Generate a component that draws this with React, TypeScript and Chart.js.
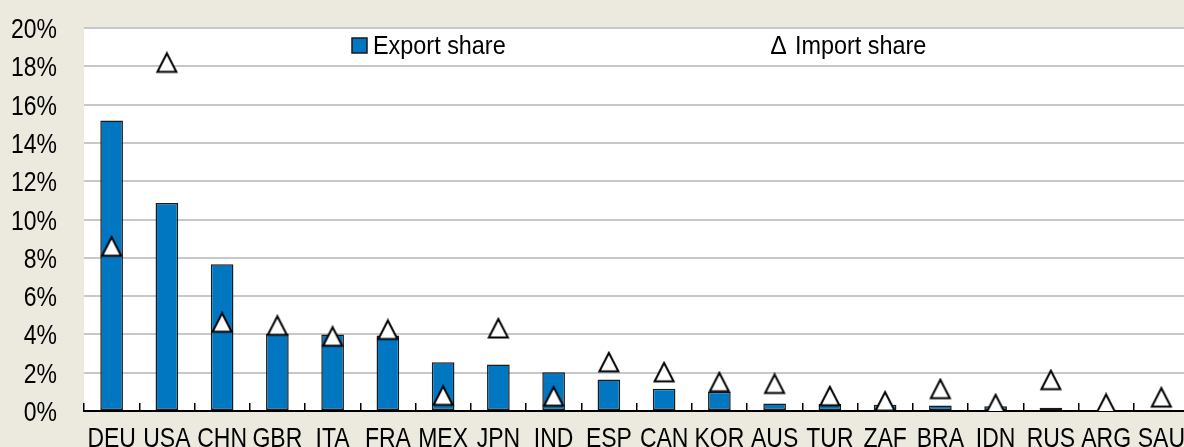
import { useEffect, useRef } from "react";
import { Chart, registerables } from "chart.js";

Chart.register(...registerables);

const categories = ["DEU", "USA", "CHN", "GBR", "ITA", "FRA", "MEX", "JPN", "IND", "ESP", "CAN", "KOR", "AUS", "TUR", "ZAF", "BRA", "IDN", "RUS", "ARG", "SAU"];
const exportShare = [15.17, 10.86, 7.66, 4.04, 3.99, 3.94, 2.55, 2.43, 2.03, 1.64, 1.16, 1.0, 0.39, 0.37, 0.32, 0.29, 0.25, 0.17, 0.04, 0.06];
const importShare = [8.58, 18.18, 4.61, 4.45, 3.88, 4.23, 0.79, 4.31, 0.75, 2.54, 2.02, 1.5, 1.41, 0.77, 0.49, 1.14, 0.35, 1.61, 0.37, 0.7];
const yTickValues = [0, 2, 4, 6, 8, 10, 12, 14, 16, 18, 20];
const legendLabels = ["Export share", "Import share"];

const FONT = '"Liberation Sans", Arial, sans-serif';
const NARROW = 0.82;
const BAR_COLOR = "#0077C0";
const BG = "#ECE9DF";

function makeTriangle(): HTMLCanvasElement {
  const c = document.createElement("canvas");
  c.width = 24;
  c.height = 23;
  const ctx = c.getContext("2d")!;
  ctx.beginPath();
  ctx.moveTo(12, 2);
  ctx.lineTo(2.5, 20.5);
  ctx.lineTo(21.5, 20.5);
  ctx.closePath();
  ctx.fillStyle = "#ffffff";
  ctx.fill();
  ctx.lineWidth = 2;
  ctx.lineJoin = "miter";
  ctx.strokeStyle = "#000000";
  ctx.stroke();
  return c;
}

function narrowText(ctx: CanvasRenderingContext2D, text: string, x: number, y: number, sx: number) {
  ctx.save();
  ctx.translate(x, y);
  ctx.scale(sx, 1);
  ctx.fillText(text, 0, 0);
  ctx.restore();
}

const plotBgPlugin = {
  id: "plotBg",
  beforeDraw(chart: any) {
    const { ctx, chartArea } = chart;
    ctx.save();
    ctx.fillStyle = "#ffffff";
    ctx.fillRect(chartArea.left, chartArea.top, chartArea.right - chartArea.left, chartArea.bottom - chartArea.top);
    ctx.restore();
  },
};

const tickLabelPlugin = {
  id: "narrowTickLabels",
  afterDraw(chart: any) {
    const { ctx } = chart;
    const xs = chart.scales.x;
    const ys = chart.scales.y;
    ctx.save();
    ctx.fillStyle = "#000";
    ctx.font = `28px ${FONT}`;
    ctx.textBaseline = "alphabetic";
    ctx.textAlign = "center";
    xs.ticks.forEach((t: any, i: number) => {
      narrowText(ctx, String(t.label), xs.getPixelForTick(i), 447, NARROW);
    });
    ctx.textAlign = "right";
    ys.ticks.forEach((t: any) => {
      narrowText(ctx, `${t.value}%`, 57, ys.getPixelForValue(t.value) + 10, NARROW);
    });
    ctx.restore();
  },
};

const legendPlugin = {
  id: "customLegend",
  afterDraw(chart: any) {
    const { ctx } = chart;
    ctx.save();
    ctx.font = `26px ${FONT}`;
    ctx.textBaseline = "alphabetic";
    ctx.textAlign = "left";
    ctx.fillStyle = BAR_COLOR;
    ctx.fillRect(352, 38, 15, 15);
    ctx.strokeStyle = "#1a1a1a";
    ctx.lineWidth = 1.5;
    ctx.strokeRect(352, 38, 15, 15);
    ctx.fillStyle = "#000";
    narrowText(ctx, legendLabels[0], 373, 54, 0.9);
    narrowText(ctx, "\u2206", 771, 54, 0.95);
    narrowText(ctx, legendLabels[1], 795, 54, 0.9);
    ctx.restore();
  },
};

export default function App() {
  const ref = useRef<HTMLCanvasElement | null>(null);
  useEffect(() => {
    if (!ref.current) return;
    const tri = makeTriangle();
    const chart = new Chart(ref.current, {
      type: "bar",
      data: {
        labels: categories,
        datasets: [
          {
            type: "bar",
            label: legendLabels[0],
            data: exportShare,
            backgroundColor: BAR_COLOR,
            borderColor: "#1a1a1a",
            borderWidth: 1.5,
            borderSkipped: false,
            barPercentage: 0.41,
            categoryPercentage: 1,
            order: 2,
          },
          {
            type: "line",
            label: legendLabels[1],
            data: importShare,
            showLine: false,
            pointStyle: tri,
            pointRadius: 10,
            order: 1,
          } as any,
        ],
      },
      options: {
        responsive: false,
        animation: false,
        devicePixelRatio: 1,
        layout: { padding: { left: 0, top: 28, right: 8, bottom: 0 } },
        plugins: { legend: { display: false }, tooltip: { enabled: false } },
        scales: {
          x: {
            offset: true,
            grid: {
              display: true,
              offset: true,
              drawOnChartArea: false,
              drawTicks: true,
              tickLength: -8,
              color: "#000",
              lineWidth: 1.5,
            },
            border: { display: true, color: "#000", width: 2 },
            ticks: {
              color: "rgba(0,0,0,0)",
              font: { family: FONT, size: 28 },
              padding: 16,
              maxRotation: 0,
              autoSkip: false,
            },
            afterFit(scale: any) {
              scale.height = 470 - 411;
              scale.paddingLeft = 0;
              scale.paddingRight = 0;
            },
          },
          y: {
            min: 0,
            max: 20,
            afterBuildTicks(scale: any) {
              scale.ticks = yTickValues.map((v) => ({ value: v }));
            },
            grid: {
              display: true,
              drawTicks: false,
              color: (c: any) => (c.tick && c.tick.value === 0 ? "rgba(0,0,0,0)" : "#c8c8c8"),
              lineWidth: 2,
            },
            border: { display: false },
            ticks: {
              color: "rgba(0,0,0,0)",
              font: { family: FONT, size: 28 },
              padding: 27,
              callback: (v: any) => `${v}%`,
            },
            afterFit(scale: any) {
              scale.width = 84;
              scale.paddingTop = 0;
              scale.paddingBottom = 0;
            },
          },
        },
      },
      plugins: [plotBgPlugin, tickLabelPlugin, legendPlugin],
    });
    return () => chart.destroy();
  }, []);
  return (
    <div style={{ position: "fixed", left: 0, top: 0, width: 1184, height: 447, overflow: "hidden", background: BG }}>
      <canvas ref={ref} width={1200} height={470} style={{ width: 1200, height: 470, display: "block" }} />
    </div>
  );
}
